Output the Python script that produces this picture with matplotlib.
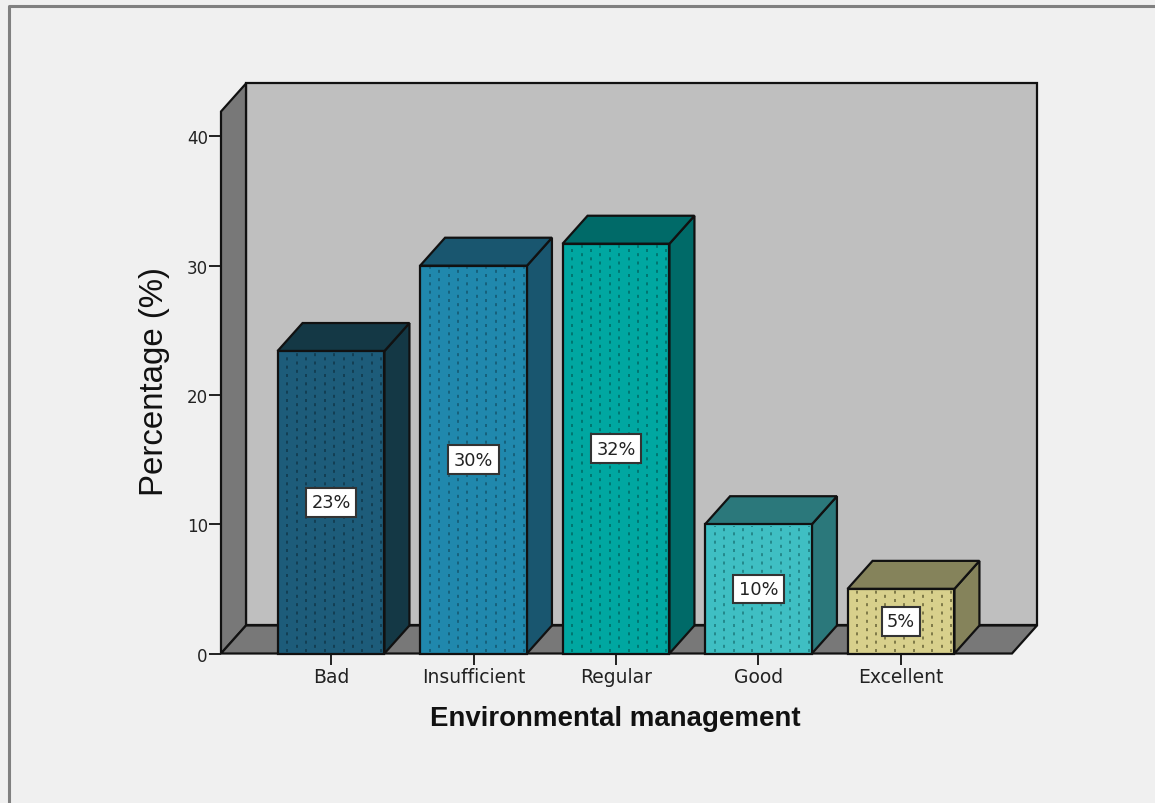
import matplotlib
matplotlib.use("Agg")
import matplotlib.pyplot as plt
from matplotlib.lines import Line2D
from matplotlib.patches import Polygon, Rectangle

# percentages per category
categories = ["Bad", "Insufficient", "Regular", "Good", "Excellent"]
values = [23.4, 30.0, 31.7, 10.0, 5.0]
yticks = [0, 10, 20, 30, 40]

front_colors = ["#1d5c7a", "#2088ad", "#00a7a1", "#3fbfc3", "#d8d08c"]
top_colors = ["#143845", "#19566f", "#006a68", "#2b787b", "#85835b"]
dot_colors = ["#123a4d", "#155a73", "#006d68", "#1f7f82", "#6f6b3c"]

W, H = 1155, 804
BG = "#f0f0f0"
EDGE = "#111111"
bar_width = 0.75

fig = plt.figure(figsize=(W / 100, H / 100), dpi=100, facecolor=BG)

# frame around the window, open on the right and at the bottom
fig.add_artist(Line2D([9 / W, 9 / W, 1], [0, 1 - 7 / H, 1 - 7 / H], color="#808080", lw=2.2))

ax = fig.add_axes([221 / W, 1 - 654.5 / H, 791 / W, 542 / H])
ax.set_facecolor("none")
xmin, xmax = -0.772, 4.779
ymin, ymax = 0, 41.93
ax.set_xlim(xmin, xmax)
ax.set_ylim(ymin, ymax)

# depth of the fake 3d box, in data units
dx = 25 / 142.5
dy = 28 / 12.925


def poly(pts, color, z, lw=1.6):
    ax.add_patch(Polygon(pts, closed=True, facecolor=color, edgecolor=EDGE, lw=lw,
                         zorder=z, clip_on=False, joinstyle="miter"))


# walls and floor
poly([(xmin + dx, dy), (xmax + dx, dy), (xmax + dx, ymax + dy), (xmin + dx, ymax + dy)], "#bfbfbf", 1)
poly([(xmin, 0), (xmin + dx, dy), (xmin + dx, ymax + dy), (xmin, ymax)], "#787878", 2)
poly([(xmin, 0), (xmax, 0), (xmax + dx, dy), (xmin + dx, dy)], "#787878", 2)

for i, v in enumerate(values):
    x0 = i - bar_width / 2
    x1 = i + bar_width / 2
    z = 3 + i
    poly([(x1, 0), (x1 + dx, dy), (x1 + dx, v + dy), (x1, v)], top_colors[i], z)
    poly([(x0, v), (x1, v), (x1 + dx, v + dy), (x0 + dx, v + dy)], top_colors[i], z)
    ax.add_patch(Rectangle((x0, 0), bar_width, v, facecolor=front_colors[i],
                           edgecolor=EDGE, lw=1.6, zorder=z, clip_on=False))
    # dotted columns on the front face
    for k in range(11):
        xp = x0 + 0.068 + k * 0.066
        ax.plot([xp, xp], [0.1, v - 0.1], color=dot_colors[i], lw=1.2,
                linestyle=(k % 2 * 2.5, (1.8, 3.2)), zorder=z + 0.1, clip_on=False)
    ax.text(i, v / 2, f"{round(v)}%", ha="center", va="center", fontsize=12.8,
            family="DejaVu Sans", color="#222222", zorder=z + 0.2,
            bbox=dict(boxstyle="square,pad=0.3", facecolor="white", edgecolor="#333333", lw=1.5))

for side in ["top", "right", "left", "bottom"]:
    ax.spines[side].set_visible(False)
ax.set_xticks(range(len(categories)))
ax.set_xticklabels(categories, fontsize=13.5, family="DejaVu Sans", color="#222222")
ax.set_yticks(yticks)
ax.tick_params(axis="y", length=8.5, width=1.3, color=EDGE, labelsize=12, labelcolor="#222222", pad=1)
ax.tick_params(axis="x", length=8, width=1.3, color=EDGE, pad=2)
ax.set_ylabel("Percentage (%)", fontsize=23.8, family="Liberation Sans", color="#111111", va="center")
ax.yaxis.set_label_coords((154 - 221) / 791, (654 - 381) / 542)
ax.set_xlabel("Environmental management", fontsize=19.9, fontweight="bold",
              family="Liberation Sans", color="#111111", va="center")
ax.xaxis.set_label_coords((615 - 221) / 791, -(718 - 654) / 542)

fig.savefig("out.png", dpi=100, facecolor=BG)
